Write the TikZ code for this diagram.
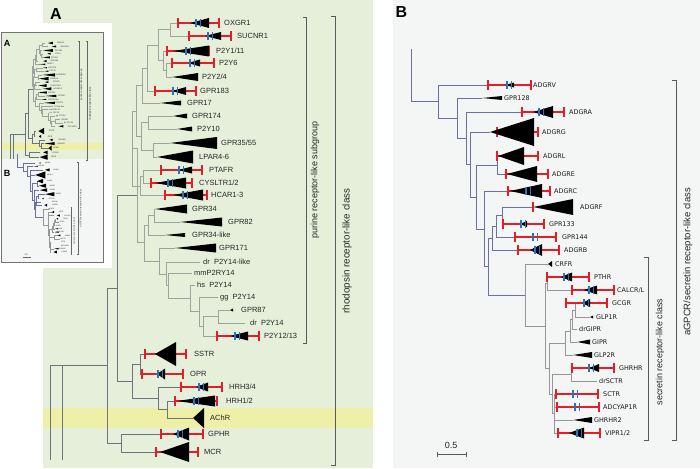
\documentclass[tikz,border=0pt]{standalone}
\usepackage{fontspec}
\setmainfont{Liberation Sans}
\newfontfamily\dejavu{DejaVu Sans}
\definecolor{agreen}{RGB}{230,239,218}
\definecolor{bgray}{RGB}{244,245,245}
\definecolor{yband}{RGB}{238,240,168}
\definecolor{rbarc}{RGB}{228,30,38}
\definecolor{bmkc}{RGB}{36,118,192}
\definecolor{brA}{RGB}{108,116,128}
\definecolor{brL}{RGB}{158,163,158}
\definecolor{brP}{RGB}{108,110,166}
\definecolor{brG}{RGB}{150,150,150}
\tikzset{
  bd/.style={draw=brA, line width=0.7pt},
  bl/.style={draw=brL, line width=0.6pt},
  bp/.style={draw=brP, line width=0.7pt},
  bg/.style={draw=brG, line width=0.6pt},
  redbar/.style={draw=rbarc, line width=1.4pt},
  bluemark/.style={draw=bmkc, line width=1.3pt},
  trifill/.style={fill=black},
  labA/.style={anchor=west, inner sep=0pt, text depth=0pt, text=black!85, font=\fontsize{7.5}{9}\selectfont},
  labB/.style={anchor=west, inner sep=0pt, text depth=0pt, text=black!90, font=\dejavu\fontsize{6.4}{8}\selectfont},
  lab/.style={labA},
  brk/.style={draw=black!65, line width=0.6pt},
  brklab/.style={rotate=90, inner sep=0pt, text=black!85},
  panellab/.style={inner sep=0pt, font=\bfseries\fontsize{16}{18}\selectfont},
}
\newcommand\mkred[3]{\path[redbar] (#1,#3) -- (#2,#3); \path[redbar] (#1,#3-5) -- (#1,#3+5) (#2,#3-5) -- (#2,#3+5);}
\newcommand\mktri[4]{\path[trifill] (#1,#3) -- (#2,#3-#4) -- (#2,#3+#4) -- cycle;}
\newcommand\mkblue[2]{\path[bluemark] (#1,#2-4) -- (#1,#2+4) (#1+4.5,#2-4) -- (#1+4.5,#2+4);}
\newcommand\mkleaf[5]{\coordinate (#1) at (#2,#3); \node[lab] (#1-t) at (#4,#3) {#5};}

\newcommand\treeAcontent{%
\mkleaf{oxgr}{178}{23}{224}{OXGR1}
\mkleaf{sucnr}{189}{36}{237}{SUCNR1}
\mkleaf{ptwo}{167}{51}{216}{P2Y1/11}
\mkleaf{psix}{172}{63}{219}{P2Y6}
\mkleaf{ptf}{172}{77}{202}{P2Y2/4}
\mkleaf{gcxiii}{155}{91}{200}{GPR183}
\mkleaf{gxvii}{160}{103}{187}{GPR17}
\mkleaf{gclxxiv}{173}{116}{192}{GPR174}
\mkleaf{pten}{177}{129}{197}{P2Y10}
\mkleaf{gtf}{170}{143}{221}{GPR35/55}
\mkleaf{lpar}{157}{157}{199}{LPAR4-6}
\mkleaf{ptafr}{161}{170}{209}{PTAFR}
\mkleaf{cys}{151}{183}{199}{CYSLTR1/2}
\mkleaf{hcar}{165}{195}{211}{HCAR1-3}
\mkleaf{gtfour}{155}{209}{192}{GPR34}
\mkleaf{geighty}{180}{222}{228}{GPR82}
\mkleaf{gtfl}{165}{235}{192}{GPR34-like}
\mkleaf{gclxxi}{175}{248}{219}{GPR171}
\mkleaf{drl}{200}{262}{203}{dr\ \ P2Y14-like}
\mkleaf{mm}{192}{273}{194}{mmP2RY14}
\mkleaf{hs}{195}{285}{197}{hs\ \ P2Y14}
\mkleaf{gg}{218}{297}{220}{gg\ \ P2Y14}
\mkleaf{geightyseven}{230}{310}{241}{GPR87}
\mkleaf{drp}{245}{323}{250}{dr\ \ P2Y14}
\mkleaf{ptwelve}{217}{336}{264}{P2Y12/13}
\mkleaf{sstr}{145}{354}{194}{SSTR}
\mkleaf{opr}{142}{374}{190}{OPR}
\mkleaf{hrhtf}{181}{387}{229}{HRH3/4}
\mkleaf{hrhot}{175}{401}{226}{HRH1/2}
\mkleaf{achr}{193}{418}{210}{AChR}
\mkleaf{gphr}{161}{434}{208}{GPHR}
\mkleaf{mcr}{156}{452}{204}{MCR}
\coordinate (a1) at (170,29.5);
\coordinate (a3) at (166,70);
\coordinate (a2) at (163,60.5);
\coordinate (a4) at (158,45);
\coordinate (a5) at (147,68);
\coordinate (a6) at (142,85.5);
\coordinate (b1) at (148,122.5);
\coordinate (b2) at (153,150);
\coordinate (b3) at (141,136);
\coordinate (c0) at (136,111);
\coordinate (c1) at (143,176.5);
\coordinate (c2) at (140,186);
\coordinate (c3) at (132,148.5);
\coordinate (d1) at (154,215.5);
\coordinate (d2) at (148,225);
\coordinate (L7) at (218,316.5);
\coordinate (L6) at (203,326);
\coordinate (L5) at (199,311.5);
\coordinate (L4) at (190,298);
\coordinate (L3) at (168,285.5);
\coordinate (L2) at (166,274);
\coordinate (L1) at (159,261);
\coordinate (d3) at (144,242);
\coordinate (pur) at (137,195);
\coordinate (e2b) at (167,409.5);
\coordinate (e2) at (158,398);
\coordinate (e1) at (140,364);
\coordinate (e3) at (132,381);
\coordinate (t117) at (117,288);
\coordinate (f1) at (121,443);
\coordinate (t107) at (107,365.5);
\coordinate (rA) at (50,365.5);
\coordinate (rAa) at (50,460);
\coordinate (rAb) at (62,365.5);
\coordinate (rAc) at (62,460);
\draw[bd] (rAa) -- (rA) -- (t107) (rAb) -- (rAc);
\draw[bd] (t107) |- (t117) (t107) |- (f1) (f1) |- (gphr) (f1) |- (mcr)
  (t117) |- (pur) (t117) |- (e3) (e3) |- (e1) (e3) |- (e2)
  (e1) |- (sstr) (e1) |- (opr) (e2) |- (hrhtf) (e2) |- (e2b)
  (e2b) |- (hrhot) (e2b) |- (achr);
\draw[bl] (pur) |- (c3) (pur) |- (d3) (c3) |- (c0) (c3) |- (c2)
  (c0) |- (a6) (c0) |- (b3) (a6) |- (a5) (a6) |- (gxvii)
  (a5) |- (a4) (a5) |- (gcxiii) (a4) |- (a1) (a4) |- (a2)
  (a1) |- (oxgr) (a1) |- (sucnr) (a2) |- (ptwo) (a2) |- (a3)
  (a3) |- (psix) (a3) |- (ptf) (b3) |- (b1) (b3) |- (b2)
  (b1) |- (gclxxiv) (b1) |- (pten) (b2) |- (gtf) (b2) |- (lpar)
  (c2) |- (c1) (c2) |- (hcar) (c1) |- (ptafr) (c1) |- (cys)
  (d3) |- (d2) (d3) |- (L1) (d2) |- (d1) (d2) |- (gtfl)
  (d1) |- (gtfour) (d1) |- (geighty) (L1) |- (gclxxi) (L1) |- (L2)
  (L2) |- (drl) (L2) |- (L3) (L3) |- (mm) (L3) |- (L4)
  (L4) |- (hs) (L4) |- (L5) (L5) |- (gg) (L5) |- (L6)
  (L6) |- (L7) (L6) |- (ptwelve) (L7) |- (geightyseven) (L7) |- (drp);
\mkred{178}{219}{23} \mkred{189}{231}{36} \mkred{167}{209}{51} \mkred{172}{214}{63}
\mkred{155}{196}{91} \mkred{161}{202}{170} \mkred{151}{192}{183} \mkred{165}{207}{195}
\mkred{217}{259}{336} \mkred{145}{186}{354} \mkred{142}{183}{374} \mkred{181}{222}{387}
\mkred{175}{217}{401} \mkred{161}{203}{434} \mkred{156}{198}{452}
\mktri{190}{209}{23}{5} \mktri{205}{221}{36}{4} \mktri{173}{209}{51}{5.5}
\mktri{188}{200}{63}{3.5} \mktri{172}{198}{77}{4} \mktri{172}{186}{91}{4}
\mktri{160}{181}{103}{2.5} \mktri{173}{187}{116}{2.5} \mktri{177}{192}{129}{2.5}
\mktri{170}{217}{143}{6} \mktri{157}{193}{157}{6.5} \mktri{178}{192}{170}{3.5}
\mktri{155}{186}{183}{5.5} \mktri{173}{203}{195}{5.5} \mktri{155}{187}{209}{4.5}
\mktri{180}{222}{222}{4.5} \mktri{165}{185}{235}{2} \mktri{175}{216}{248}{4.5}
\mktri{230}{233}{310}{1.5} \mktri{230}{248}{336}{4.5} \mktri{155}{176}{354}{12}
\mktri{157}{165}{374}{5.5} \mktri{196}{208}{387}{4.5} \mktri{177}{215}{401}{5.5}
\mktri{193}{204}{418}{10} \mktri{173}{189}{434}{6.5} \mktri{160}{189}{452}{10}
\mkblue{196}{23} \mkblue{208}{36} \mkblue{186}{51} \mkblue{190}{63} \mkblue{173}{91}
\mkblue{179}{170} \mkblue{168}{183} \mkblue{183}{195} \mkblue{235}{336} \mkblue{158}{374}
\mkblue{199}{387} \mkblue{194}{401} \mkblue{178}{434}
\draw[brk] (303,17) -- (306,17) -- (306,343) -- (303,343);
\node[brklab, font=\fontsize{9}{11}\selectfont] (purlab) at (315,180) {purine receptor-like subgroup};
\draw[brk] (331,16) -- (335,16) -- (335,465) -- (331,465);
\node[brklab, font=\fontsize{9.8}{12}\selectfont] (rholab) at (347,251) {rhodopsin receptor-like class};
}

\newcommand\treeBcontent{%
\begin{scope}[lab/.style={labB}]
\mkleaf{adgrv}{488}{85}{533}{ADGRV}
\mkleaf{gcxxviii}{482}{98}{504}{GPR128}
\mkleaf{adgra}{522}{112}{569}{ADGRA}
\mkleaf{adgrg}{490}{132}{542}{ADGRG}
\mkleaf{adgrl}{497}{156}{543}{ADGRL}
\mkleaf{adgre}{506}{174}{552}{ADGRE}
\mkleaf{adgrc}{508}{191}{554}{ADGRC}
\mkleaf{adgrf}{533}{207}{580}{ADGRF}
\mkleaf{gcxxxiii}{503}{224}{549}{GPR133}
\mkleaf{gcxliv}{515}{237}{562}{GPR144}
\mkleaf{adgrb}{518}{250}{564}{ADGRB}
\mkleaf{crfr}{548}{264}{555}{CRFR}
\mkleaf{pthr}{561}{277}{594}{PTHR}
\mkleaf{calcr}{572}{290}{617}{CALCR/L}
\mkleaf{gcgr}{582}{303}{612}{GCGR}
\mkleaf{glpo}{590}{317}{596}{GLP1R}
\mkleaf{drgipr}{577}{329}{579}{drGIPR}
\mkleaf{gipr}{577}{342}{592}{GIPR}
\mkleaf{glpt}{573}{355}{594}{GLP2R}
\mkleaf{ghrhr}{589}{368}{619}{GHRHR}
\mkleaf{drsctr}{597}{381}{599}{drSCTR}
\mkleaf{sctr}{556}{394}{603}{SCTR}
\mkleaf{adcy}{557}{407}{603}{ADCYAP1R}
\mkleaf{ghrhrt}{573}{420}{594}{GHRHR2}
\mkleaf{vipr}{558}{433}{605}{VIPR1/2}
\end{scope}
\coordinate (rB) at (411,49);
\coordinate (n438) at (438,101.5);
\coordinate (n457) at (457,118);
\coordinate (n466) at (466,138);
\coordinate (n470) at (470,164.5);
\coordinate (n476) at (476,197);
\coordinate (le) at (497,165);
\coordinate (k5) at (484,229);
\coordinate (k4) at (488,266.5);
\coordinate (k3) at (492,238);
\coordinate (k2) at (496,226);
\coordinate (k1) at (502,215.5);
\coordinate (s) at (525,295);
\coordinate (t) at (545,326);
\coordinate (p) at (547,283.5);
\coordinate (nn2) at (549,368.5);
\coordinate (nn1) at (565,343);
\coordinate (g3) at (570,331);
\coordinate (g2) at (572,319.5);
\coordinate (g1) at (575,310);
\coordinate (m6) at (552,394);
\coordinate (m1) at (571,374.5);
\coordinate (m7) at (554,413.5);
\draw[bp] (rB) |- (n438) (n438) |- (adgrv) (n438) |- (n457) (n457) |- (gcxxviii)
  (n457) |- (n466) (n466) |- (adgra) (n466) |- (n470) (n470) |- (adgrg)
  (n470) |- (n476) (n476) |- (le) (n476) |- (k5) (le) |- (adgrl) (le) |- (adgre)
  (k5) |- (adgrc) (k5) |- (k4) (k4) |- (k3) (k4) |- (s) (k3) |- (k2) (k3) |- (adgrb)
  (k2) |- (k1) (k2) |- (gcxliv) (k1) |- (adgrf) (k1) |- (gcxxxiii);
\draw[bg] (s) |- (crfr) (s) |- (t) (t) |- (p) (t) |- (nn2) (p) |- (pthr) (p) |- (calcr)
  (nn2) |- (nn1) (nn2) |- (m6) (nn1) |- (g3) (nn1) |- (glpt) (g3) |- (g2) (g3) |- (gipr)
  (g2) |- (g1) (g2) |- (drgipr) (g1) |- (gcgr) (g1) |- (glpo) (m6) |- (m1) (m6) |- (m7)
  (m1) |- (ghrhr) (m1) |- (drsctr) (m7) |- (sctr) (m7) |- (adcy) (m7) |- (ghrhrt) (m7) |- (vipr);
\mkred{488}{531}{85} \mkred{522}{564}{112} \mkred{497}{538}{132} \mkred{497}{538}{156}
\mkred{506}{548}{174} \mkred{508}{550}{191} \mkred{533}{533}{207} \mkred{503}{544}{224}
\mkred{515}{556}{237} \mkred{518}{559}{250} \mkred{547}{589}{277} \mkred{572}{614}{290}
\mkred{566}{607}{303} \mkred{572}{614}{368} \mkred{556}{598}{394} \mkred{557}{599}{407}
\mkred{558}{600}{433}
\mktri{505}{514}{85}{2.5} \mktri{482}{502}{98}{2} \mktri{533}{553}{112}{6}
\mktri{490}{534}{132}{14} \mktri{498}{524}{156}{9} \mktri{507}{537}{174}{8}
\mktri{510}{542}{191}{7} \mktri{533}{573}{207}{8} \mktri{520}{527}{224}{3}
\mktri{530}{542}{250}{6} \mktri{548}{552}{264}{3} \mktri{561}{572}{277}{4.5}
\mktri{584}{597}{290}{4.5} \mktri{582}{590}{303}{4} \mktri{590}{593}{317}{1.5}
\mktri{577}{590}{342}{2.5} \mktri{573}{592}{355}{3} \mktri{589}{599}{368}{4}
\mktri{573}{592}{420}{3} \mktri{569}{584}{433}{5.5}
\mkblue{507}{85} \mkblue{539}{112} \mkblue{526}{191} \mkblue{521}{224} \mkblue{533}{237}
\mkblue{535}{250} \mkblue{564}{277} \mkblue{589}{290} \mkblue{584}{303} \mkblue{589}{368}
\mkblue{573}{394} \mkblue{575}{407} \mkblue{577}{433}
\draw[brk] (672,80) -- (676,80) -- (676,440) -- (672,440);
\node[brklab, font=\fontsize{9.5}{11}\selectfont] (aglab) at (688,262) {aGPCR/secretin receptor-like class};
\draw[brk] (644,257) -- (648,257) -- (648,440) -- (644,440);
\node[brklab, font=\fontsize{9}{11}\selectfont] (seclab) at (660,352) {secretin receptor-like class};
\coordinate (sbL) at (437,454);
\coordinate (sbR) at (466,454);
\draw[brk] (sbL) -- (sbR) ([yshift=2.5pt]sbL) -- ([yshift=-2.5pt]sbL) ([yshift=2.5pt]sbR) -- ([yshift=-2.5pt]sbR);
\node[inner sep=0pt, font=\fontsize{9}{11}\selectfont, text=black!85] (sblab) at (451,445) {0.5};
}

\begin{document}
\begin{tikzpicture}[x=1pt,y=-1pt]
\useasboundingbox (0,0) rectangle (700,468);
\fill[white] (0,0) rectangle (700,468);
\fill[agreen] (43,0) rectangle (373,468);
\fill[bgray] (393,0) rectangle (700,468);
\fill[yband] (43,408) rectangle (373,428);
% inset thumbnail
\fill[white] (0,23) rectangle (112,268);
\fill[agreen] (1,32) rectangle (103,159);
\fill[yband] (1,143) rectangle (103,150);
\fill[bgray] (1,159) rectangle (103,262);
\begin{scope}[name prefix=i-, shift={(-3.5,36.9)}, xscale=0.27, yscale=0.266, transform shape,
  redbar/.style={}, bluemark/.style={},
  bd/.style={draw=brA, line width=0.3pt}, bl/.style={draw=brL, line width=0.3pt},
  brk/.style={draw=black!60, line width=0.3pt}]
\treeAcontent
\end{scope}
\begin{scope}[name prefix=j-, shift={(-77.5,141.2)}, xscale=0.23, yscale=0.256, transform shape,
  redbar/.style={}, bluemark/.style={},
  bp/.style={draw=brP, line width=0.3pt}, bg/.style={draw=brG, line width=0.3pt},
  brk/.style={draw=black!60, line width=0.3pt}]
\treeBcontent
\end{scope}
\draw[black!55, line width=0.6pt] (1,32) rectangle (103,262);
\node[inner sep=0pt, font=\bfseries\fontsize{9}{10}\selectfont] (insA) at (7,43) {A};
\node[inner sep=0pt, font=\bfseries\fontsize{9}{10}\selectfont] (insB) at (7,173) {B};
% main panels
\treeAcontent
\treeBcontent
\node[panellab] (labA) at (56,14) {A};
\node[panellab] (labB) at (401.5,12) {B};
\end{tikzpicture}
\end{document}
